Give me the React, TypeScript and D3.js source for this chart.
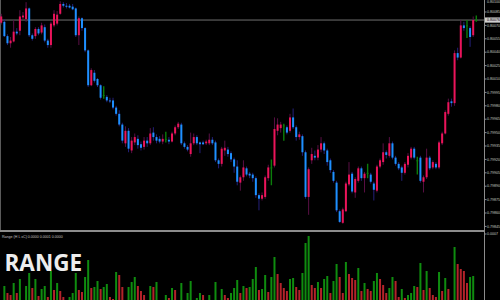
import React from 'react';
import * as d3 from 'd3';

// Candle prices (EURCHF-like quotes), one entry per bar, left to right
const opens = [
  0.80073,0.80074,0.80058,0.80050,0.80052,0.80063,0.80064,0.80079,0.80077,0.80089,
  0.80059,0.80058,0.80066,0.80062,0.80068,0.80053,0.80048,0.80070,0.80072,0.80083,
  0.80094,0.80092,0.80092,0.80091,0.80089,0.80059,0.80078,0.80067,0.80042,0.80003,
  0.80017,0.80010,0.80003,0.79992,0.79990,0.79986,0.79986,0.79978,0.79971,0.79959,
  0.79938,0.79952,0.79930,0.79939,0.79943,0.79937,0.79934,0.79941,0.79938,0.79950,
  0.79945,0.79943,0.79940,0.79943,0.79942,0.79940,0.79949,0.79956,0.79959,0.79938,
  0.79934,0.79926,0.79938,0.79945,0.79939,0.79939,0.79938,0.79938,0.79942,0.79939,
  0.79919,0.79915,0.79930,0.79931,0.79927,0.79920,0.79912,0.79894,0.79900,0.79910,
  0.79904,0.79903,0.79899,0.79880,0.79876,0.79878,0.79899,0.79911,0.79913,0.79952,
  0.79955,0.79958,0.79956,0.79952,0.79967,0.79956,0.79945,0.79946,0.79928,0.79878,
  0.79919,0.79924,0.79922,0.79931,0.79938,0.79930,0.79919,0.79906,0.79894,0.79862,
  0.79849,0.79862,0.79892,0.79904,0.79883,0.79896,0.79910,0.79899,0.79905,0.79903,
  0.79893,0.79885,0.79912,0.79917,0.79928,0.79924,0.79938,0.79922,0.79915,0.79911,
  0.79905,0.79914,0.79922,0.79932,0.79919,0.79922,0.79895,0.79900,0.79922,0.79911,
  0.79915,0.79911,0.79938,0.79949,0.79971,0.79985,0.79983,0.80039,0.80034,0.80070,
  0.80070,0.80067,0.80059,0.80076,
];
const highs = [
  0.80083,0.80077,0.80060,0.80057,0.80076,0.80067,0.80087,0.80085,0.80096,0.80090,
  0.80061,0.80068,0.80068,0.80073,0.80071,0.80055,0.80074,0.80087,0.80086,0.80097,
  0.80096,0.80095,0.80094,0.80094,0.80090,0.80080,0.80079,0.80068,0.80043,0.80022,
  0.80020,0.80011,0.80004,0.80002,0.79992,0.79989,0.79989,0.79980,0.79975,0.79961,
  0.79957,0.79955,0.79945,0.79949,0.79947,0.79940,0.79945,0.79945,0.79955,0.79956,
  0.79948,0.79946,0.79948,0.79951,0.79945,0.79951,0.79958,0.79962,0.79961,0.79940,
  0.79936,0.79950,0.79949,0.79947,0.79940,0.79941,0.79942,0.79949,0.79945,0.79941,
  0.79921,0.79934,0.79941,0.79934,0.79929,0.79922,0.79919,0.79902,0.79919,0.79912,
  0.79906,0.79905,0.79901,0.79882,0.79883,0.79902,0.79914,0.79920,0.79967,0.79966,
  0.79962,0.79960,0.79958,0.79971,0.79977,0.79958,0.79951,0.79948,0.79930,0.79911,
  0.79933,0.79930,0.79936,0.79945,0.79940,0.79932,0.79921,0.79908,0.79896,0.79864,
  0.79866,0.79895,0.79917,0.79906,0.79900,0.79912,0.79912,0.79906,0.79915,0.79905,
  0.79895,0.79914,0.79921,0.79938,0.79930,0.79945,0.79940,0.79924,0.79917,0.79913,
  0.79917,0.79927,0.79934,0.79934,0.79923,0.79924,0.79902,0.79932,0.79924,0.79919,
  0.79917,0.79941,0.79951,0.79975,0.79988,0.79988,0.80042,0.80045,0.80076,0.80074,
  0.80076,0.80069,0.80080,0.80081,
];
const lows = [
  0.80071,0.80057,0.80048,0.80045,0.80051,0.80059,0.80059,0.80076,0.80074,0.80057,
  0.80053,0.80055,0.80059,0.80060,0.80051,0.80045,0.80045,0.80068,0.80070,0.80082,
  0.80090,0.80089,0.80089,0.80087,0.80057,0.80048,0.80064,0.80040,0.80001,0.80002,
  0.80006,0.80001,0.79987,0.79988,0.79984,0.79983,0.79976,0.79969,0.79957,0.79938,
  0.79934,0.79928,0.79927,0.79936,0.79932,0.79930,0.79931,0.79934,0.79936,0.79941,
  0.79938,0.79938,0.79937,0.79939,0.79937,0.79939,0.79947,0.79954,0.79936,0.79932,
  0.79929,0.79923,0.79936,0.79936,0.79927,0.79936,0.79936,0.79936,0.79936,0.79917,
  0.79910,0.79912,0.79924,0.79923,0.79917,0.79905,0.79891,0.79885,0.79896,0.79901,
  0.79899,0.79895,0.79877,0.79863,0.79874,0.79876,0.79896,0.79891,0.79911,0.79947,
  0.79950,0.79941,0.79948,0.79950,0.79954,0.79941,0.79942,0.79924,0.79876,0.79858,
  0.79915,0.79919,0.79919,0.79928,0.79926,0.79913,0.79905,0.79894,0.79861,0.79849,
  0.79848,0.79861,0.79890,0.79882,0.79877,0.79894,0.79896,0.79883,0.79899,0.79893,
  0.79874,0.79883,0.79910,0.79914,0.79921,0.79922,0.79920,0.79913,0.79908,0.79896,
  0.79903,0.79911,0.79920,0.79920,0.79903,0.79894,0.79883,0.79898,0.79908,0.79909,
  0.79909,0.79909,0.79936,0.79948,0.79969,0.79979,0.79980,0.80031,0.80033,0.80064,
  0.80056,0.80046,0.80057,0.80074,
];
const closes = [
  0.80080,0.80058,0.80050,0.80053,0.80063,0.80061,0.80080,0.80081,0.80089,0.80059,
  0.80055,0.80066,0.80061,0.80070,0.80053,0.80048,0.80072,0.80083,0.80082,0.80094,
  0.80092,0.80091,0.80090,0.80088,0.80059,0.80078,0.80067,0.80042,0.80003,0.80020,
  0.80008,0.80003,0.79989,0.79992,0.79986,0.79985,0.79978,0.79971,0.79959,0.79941,
  0.79952,0.79932,0.79941,0.79945,0.79936,0.79933,0.79941,0.79938,0.79949,0.79945,
  0.79941,0.79940,0.79943,0.79943,0.79940,0.79949,0.79956,0.79960,0.79938,0.79934,
  0.79931,0.79938,0.79945,0.79938,0.79937,0.79937,0.79940,0.79942,0.79938,0.79919,
  0.79915,0.79932,0.79933,0.79926,0.79920,0.79912,0.79895,0.79900,0.79911,0.79903,
  0.79902,0.79899,0.79880,0.79876,0.79880,0.79900,0.79911,0.79911,0.79954,0.79959,
  0.79959,0.79958,0.79950,0.79967,0.79956,0.79945,0.79948,0.79928,0.79878,0.79909,
  0.79926,0.79922,0.79931,0.79938,0.79930,0.79917,0.79908,0.79896,0.79863,0.79850,
  0.79864,0.79893,0.79903,0.79884,0.79898,0.79910,0.79899,0.79904,0.79905,0.79895,
  0.79886,0.79912,0.79919,0.79928,0.79925,0.79938,0.79922,0.79915,0.79910,0.79905,
  0.79915,0.79924,0.79932,0.79922,0.79919,0.79896,0.79900,0.79922,0.79910,0.79917,
  0.79911,0.79939,0.79949,0.79973,0.79984,0.79983,0.80039,0.80034,0.80070,0.80067,
  0.80070,0.80057,0.80076,0.80076,
];

// Range indicator histogram values
const rangeValues = [
  0.00003,0.00018,0.00011,0.00009,0.00021,0.00011,0.00025,0.00003,0.00018,0.00031,
  0.00016,0.00025,0.00008,0.00015,0.00018,0.00007,0.00033,0.00014,0.00021,0.00013,
  0.00007,0.00003,0.00007,0.00011,0.00031,0.00014,0.00012,0.00027,0.00044,0.00016,
  0.00017,0.00023,0.00015,0.00017,0.00020,0.00007,0.00005,0.00032,0.00029,0.00017,
  0.00003,0.00017,0.00022,0.00027,0.00018,0.00013,0.00009,0.00003,0.00018,0.00017,
  0.00022,0.00003,0.00002,0.00009,0.00006,0.00016,0.00014,0.00003,0.00021,0.00003,
  0.00011,0.00023,0.00003,0.00006,0.00011,0.00009,0.00003,0.00009,0.00003,0.00022,
  0.00003,0.00015,0.00009,0.00006,0.00011,0.00016,0.00024,0.00011,0.00018,0.00016,
  0.00017,0.00025,0.00037,0.00014,0.00015,0.00029,0.00012,0.00027,0.00047,0.00030,
  0.00021,0.00016,0.00013,0.00025,0.00026,0.00017,0.00014,0.00031,0.00061,0.00068,
  0.00019,0.00016,0.00022,0.00016,0.00025,0.00028,0.00011,0.00023,0.00040,0.00027,
  0.00011,0.00042,0.00030,0.00026,0.00024,0.00036,0.00013,0.00021,0.00015,0.00013,
  0.00023,0.00031,0.00025,0.00019,0.00011,0.00016,0.00027,0.00023,0.00007,0.00015,
  0.00006,0.00009,0.00011,0.00018,0.00017,0.00041,0.00014,0.00033,0.00016,0.00009,
  0.00007,0.00032,0.00013,0.00026,0.00015,0.00003,0.00057,0.00040,0.00035,0.00033,
  0.00021,0.00027,0.00028,0.00003,
];

const priceTicks = [
  0.80100,0.80085,0.80070,0.80055,0.80040,0.80025,0.80010,0.79995,0.79980,
  0.79965,0.79950,0.79935,0.79920,0.79905,0.79890,0.79875,0.79860,0.79845,
];
const rangeTicks = [0.0007];
const indicatorLabel = 'Range (H L xC) 0.0000 0.0001 0.0000';
const bigTitle = 'RANGE';

const W = 500;
const H = 300;
const AXIS_X = 484.5;

export default function App() {
  const n = closes.length;
  const x = d3.scaleLinear().domain([0, n - 1]).range([1.25, 476.3]);
  const y = d3.scaleLinear().domain([0.79845, 0.80085]).range([226.4, 12]);
  const yr = d3.scaleLinear().domain([0, 0.0007]).range([304, 234]);
  const fmt5 = d3.format('.5f');
  const fmt4 = d3.format('.4f');
  const last = closes[n - 1];

  const upBody = '#eb145a';
  const dnBody = '#1e90ff';
  const upWick = '#5a0f45';
  const dnWick = '#24207a';
  const doji = '#0b7d0b';

  return (
    <svg
      width={W}
      height={H}
      style={{ position: 'fixed', left: 0, top: 0, display: 'block', background: '#000' }}
      fontFamily="'Liberation Sans', Arial, sans-serif"
    >
      <defs>
        <clipPath id="mainClip">
          <rect x={0} y={0} width={AXIS_X} height={230} />
        </clipPath>
        <clipPath id="subClip">
          <rect x={0} y={232} width={AXIS_X} height={68} />
        </clipPath>
      </defs>
      <rect x={0} y={0} width={W} height={H} fill="#000" />

      {/* left border of main window */}
      <line x1={0.5} x2={0.5} y1={0} y2={230} stroke="#5a5a5a" strokeWidth={1} />

      {/* bid line */}
      <line x1={0} x2={AXIS_X} y1={y(last)} y2={y(last)} stroke="#707070" strokeWidth={1} />

      <g clipPath="url(#mainClip)">
        {closes.map((c, i) => {
          const o = opens[i];
          const cx = x(i);
          const isDoji = o === c;
          const up = c > o;
          const wick = isDoji ? doji : up ? upWick : dnWick;
          const body = isDoji ? doji : up ? upBody : dnBody;
          const top = y(Math.max(o, c));
          const bot = y(Math.min(o, c));
          return (
            <g key={i}>
              <line
                x1={cx}
                x2={cx}
                y1={y(highs[i])}
                y2={y(lows[i])}
                stroke={wick}
                strokeWidth={isDoji ? 1.4 : 1}
              />
              <rect
                x={cx - 1}
                y={top}
                width={2}
                height={Math.max(1, bot - top)}
                fill={body}
              />
            </g>
          );
        })}
      </g>

      {/* range histogram */}
      <g clipPath="url(#subClip)">
        {rangeValues.map((v, i) => {
          const green = i === 0 || v > rangeValues[i - 1];
          return (
            <rect
              key={i}
              x={x(i) - 1}
              y={yr(v)}
              width={2}
              height={yr(0) - yr(v)}
              fill={green ? '#0f8c0f' : '#b3232a'}
            />
          );
        })}
      </g>

      {/* panel separator */}
      <rect x={0} y={230} width={AXIS_X} height={2} fill="#8c8c8c" />

      {/* price axis */}
      <line x1={AXIS_X} x2={AXIS_X} y1={0} y2={H} stroke="#8c8c8c" strokeWidth={1} />
      {priceTicks.map((p) => (
        <g key={p}>
          <line x1={AXIS_X} x2={AXIS_X + 2} y1={y(p)} y2={y(p)} stroke="#8c8c8c" strokeWidth={1} />
          <text x={487} y={Math.max(y(p), 2.2)} dy="0.35em" fontSize={3.6} fill="#c8c8c8">
            {fmt5(p)}
          </text>
        </g>
      ))}
      {/* current price tag */}
      <rect x={485} y={y(last) - 2.6} width={15} height={5.2} fill="#cfcfcf" />
      <text x={487} y={y(last)} dy="0.35em" fontSize={3.6} fill="#000">
        {fmt5(last)}
      </text>

      {rangeTicks.map((t) => (
        <g key={t}>
          <line x1={AXIS_X} x2={AXIS_X + 2} y1={yr(t)} y2={yr(t)} stroke="#8c8c8c" strokeWidth={1} />
          <text x={487} y={yr(t)} dy="0.35em" fontSize={3.6} fill="#c8c8c8">
            {fmt4(t)}
          </text>
        </g>
      ))}

      <text x={2} y={237.5} fontSize={3.6} fill="#c0c0c0">
        {indicatorLabel}
      </text>

      <text
        x={4.5}
        y={271}
        fontSize={22.5}
        fontWeight={700}
        fontFamily="'Open Sans', 'DejaVu Sans', sans-serif"
        fill="#ededed"
      >
        {bigTitle}
      </text>
    </svg>
  );
}
